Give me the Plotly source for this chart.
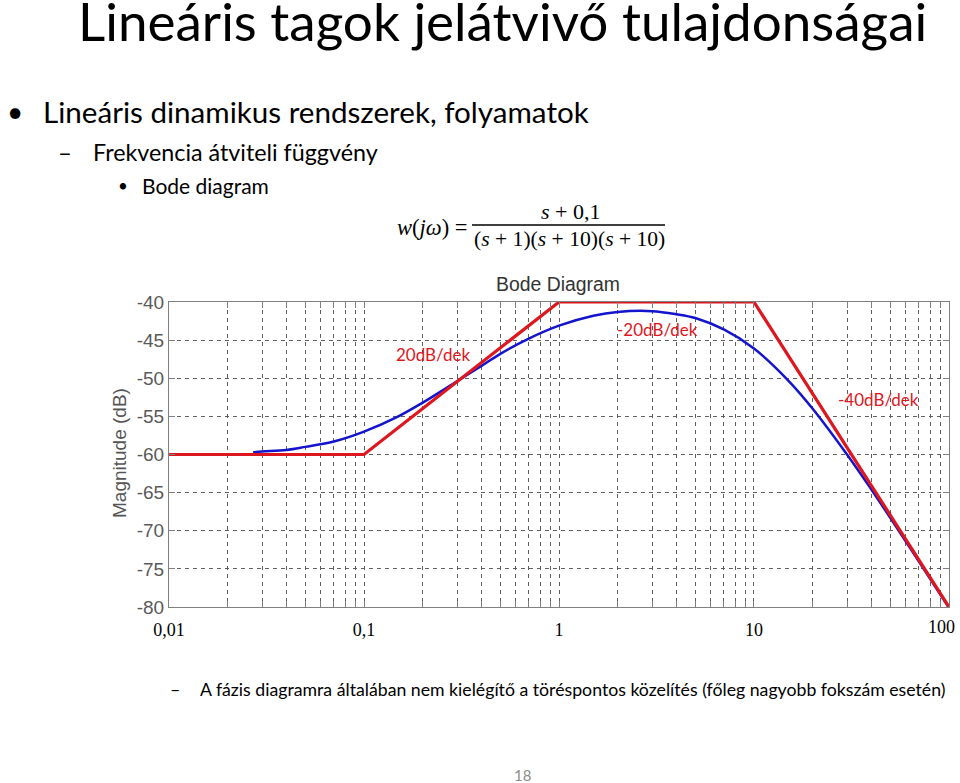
import plotly.graph_objects as go

# ---- data ----
asym_freq = [0.01, 0.1, 1, 10, 100]
asym_db = [-60, -60, -40, -40, -80]

bode_freq = [0.027, 0.03, 0.04, 0.05, 0.07, 0.1, 0.15, 0.2, 0.3, 0.4, 0.5, 0.7, 1,
             1.5, 2, 3, 4, 5, 7, 10, 15, 20, 30, 40, 50, 70, 100]
bode_db = [-59.7, -59.6, -59.4, -59.0, -58.3, -57.0, -55.0, -53.2, -50.4, -48.4, -46.8,
           -44.8, -43.1, -41.8, -41.3, -41.2, -41.6, -42.1, -43.6, -46.1, -50.3, -54.0,
           -60.0, -64.6, -68.3, -74.0, -80.1]

decades = [0.01, 0.1, 1, 10, 100]
decade_labels = ["0,01", "0,1", "1", "10", "100"]
y_ticks = [-80, -75, -70, -65, -60, -55, -50, -45, -40]
y_labels = ["-80", "-75", "-70", "-65", "-60", "-55", "-50", "-45", "-40"]

slope_labels = ["20dB/dek", "-20dB/dek", "-40dB/dek"]

# ---- layout geometry (pixels) ----
W, H = 960, 783
L, R, T, B = 169, 949, 302, 607

def px(x):
    return (x - L) / (R - L)

def py(y):
    return (B - y) / (B - T)

# grid/tick positions; the last decade label is placed separately so it is not clipped
grid_vals = []
grid_text = []
for d, lab in zip(decades, decade_labels):
    grid_vals.append(d)
    grid_text.append(lab if d < 100 else "")
    if d < 100:
        for k in range(2, 10):
            grid_vals.append(d * k)
            grid_text.append("")

RED = "rgb(222,22,30)"
BLUE = "rgb(20,20,205)"
CAL = "Lato, Noto Sans, sans-serif"
ARIAL = "Liberation Sans, Arial, sans-serif"
SER = "Liberation Serif, DejaVu Serif, serif"

fig = go.Figure()
fig.add_trace(go.Scatter(x=bode_freq, y=bode_db, mode="lines",
                         line=dict(color=BLUE, width=2.5, shape="spline"),
                         showlegend=False, hoverinfo="skip"))
fig.add_trace(go.Scatter(x=asym_freq, y=asym_db, mode="lines",
                         line=dict(color=RED, width=3.2),
                         showlegend=False, hoverinfo="skip"))

fig.update_xaxes(type="log", range=[-2.0002, 2.0002], tickmode="array", tickvals=grid_vals,
                 ticktext=grid_text, ticks="inside", ticklen=6, tickcolor="#808080",
                 showline=True, linecolor="#808080", linewidth=1.2, mirror="ticks",
                 showgrid=True, gridcolor="#606060", gridwidth=1, griddash="4px,4px",
                 tickfont=dict(family=SER, size=18, color="black"),
                 ticklabelstandoff=6, automargin=False, zeroline=False)
fig.update_yaxes(range=[-80, -40], tickmode="array", tickvals=y_ticks, ticktext=y_labels,
                 ticks="inside", ticklen=6, tickcolor="#808080",
                 showline=True, linecolor="#808080", linewidth=1.2, mirror="ticks",
                 showgrid=True, gridcolor="#606060", gridwidth=1, griddash="4px,4px",
                 tickfont=dict(family=ARIAL, size=19, color="#5a5a5a"),
                 automargin=False, zeroline=False)

ann = []
def text(x, y, s, size, color="black", family=CAL, xanchor="left", angle=0):
    ann.append(dict(x=px(x), y=py(y), xref="paper", yref="paper", text=s, showarrow=False,
                    xanchor=xanchor, yanchor="middle", textangle=angle,
                    font=dict(family=family, size=size, color=color)))

text(76, 20, "Lineáris tagok jelátvivő tulajdonságai", 53)
text(5, 111, "•", 28)
text(41, 111, "Lineáris dinamikus rendszerek, folyamatok", 29.6)
text(56, 152, "–", 24)
text(91, 152, "Frekvencia átviteli függvény", 23.3)
text(116, 185, "•", 17)
text(140, 185, "Bode diagram", 21)

text(469, 227, "<i>w</i>(<i>jω</i>) =", 22.5, family=SER, xanchor="right")
text(570, 211, "<i>s</i> + 0,1", 22, family=SER, xanchor="center")
text(569, 239, "(<i>s</i> + 1)(<i>s</i> + 10)(<i>s</i> + 10)", 21.6, family=SER, xanchor="center")

text(558, 284, "Bode Diagram", 19.4, color="#333333", family=ARIAL, xanchor="center")
text(119, 453, "Magnitude (dB)", 19, color="#555555", family=ARIAL,
     xanchor="center", angle=-90)

text(433, 354, slope_labels[0], 17, color=RED, xanchor="center")
text(657, 329, slope_labels[1], 17, color=RED, xanchor="center")
text(878, 399, slope_labels[2], 17, color=RED, xanchor="center")

text(957, 627, decade_labels[-1], 18, family=SER, xanchor="right")

text(168, 689, "–", 18)
text(198, 689, "A fázis diagramra általában nem kielégítő a töréspontos közelítés (főleg nagyobb fokszám esetén)", 17.7)
text(522, 775, "18", 15, color="#8c8c8c", xanchor="center")

fig.update_layout(
    width=W, height=H, autosize=False,
    margin=dict(l=L, r=W - R, t=T, b=H - B, pad=0),
    paper_bgcolor="white", plot_bgcolor="white",
    annotations=ann,
    shapes=[dict(type="line", xref="paper", yref="paper", x0=px(472), x1=px(665),
                 y0=py(225), y1=py(225), line=dict(color="black", width=1.3))],
)

fig.write_html("out.html")
